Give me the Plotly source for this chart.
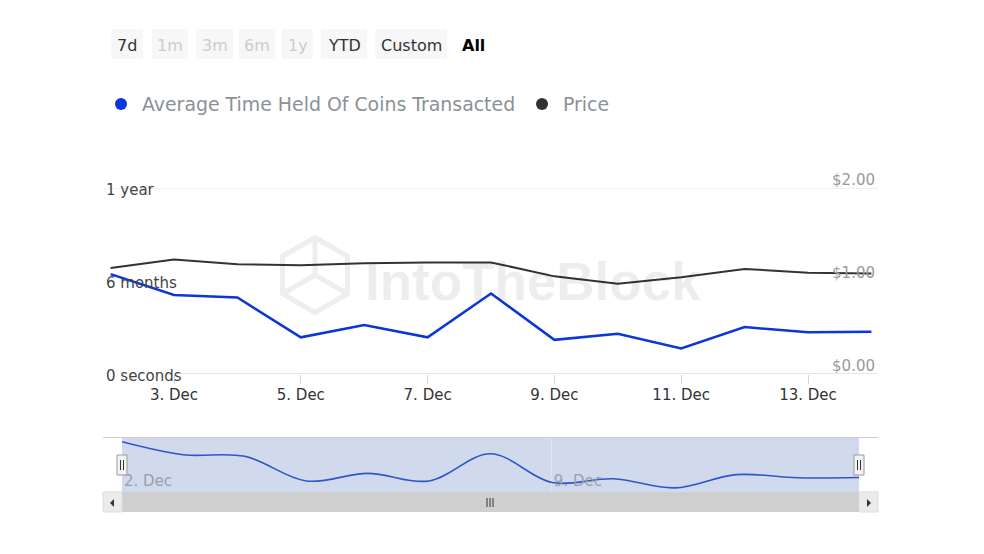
import plotly.graph_objects as go

# ---------------- data ----------------
dates = ["2023-12-02", "2023-12-03", "2023-12-04", "2023-12-05", "2023-12-06",
         "2023-12-07", "2023-12-08", "2023-12-09", "2023-12-10", "2023-12-11",
         "2023-12-12", "2023-12-13", "2023-12-14"]
hold_days = [196, 155, 150, 72, 96, 72, 158, 67, 79, 50, 92, 82, 83]
price = [1.14, 1.23, 1.18, 1.17, 1.19, 1.20, 1.20, 1.05, 0.97, 1.04, 1.13, 1.09, 1.08]

x_ticks = ["2023-12-03", "2023-12-05", "2023-12-07", "2023-12-09", "2023-12-11", "2023-12-13"]
nav_ticks = ["2023-12-02", "2023-12-09"]
left_tickvals = [0, 182.5, 365]
left_ticktext = ["0 seconds", "6 months", "1 year"]
right_tickvals = [0, 1, 2]
right_ticktext = ["$0.00", "$1.00", "$2.00"]
series_names = ["Average Time Held Of Coins Transacted", "Price"]
buttons = ["7d", "1m", "3m", "6m", "1y", "YTD", "Custom"]
button_enabled = [True, False, False, False, False, True, True]
selected_button = "All"

# ---------------- geometry helpers ----------------
W, H = 984, 554
FONT = "DejaVu Sans"
BLUE = "#0b36d8"
DARK = "#333333"


def px(x):
    return x / W


def py(y):
    return 1 - y / H


# main plot: left axis days, right axis dollars share gridlines (365 d <-> $2)
Y_TOP_DAYS = 372
main_bottom_px = 374
main_top_px = main_bottom_px - Y_TOP_DAYS * 186 / 365

fig = go.Figure()

fig.add_trace(go.Scatter(x=dates, y=price, mode="lines", name=series_names[1],
                         line=dict(color=DARK, width=2), xaxis="x", yaxis="y2",
                         showlegend=False))
fig.add_trace(go.Scatter(x=dates, y=hold_days, mode="lines", name=series_names[0],
                         line=dict(color=BLUE, width=2.5), xaxis="x", yaxis="y",
                         showlegend=False))
# navigator series
fig.add_trace(go.Scatter(x=dates, y=hold_days, mode="lines",
                         line=dict(color="#2f55c8", width=1.6, shape="spline", smoothing=1.0),
                         xaxis="x2", yaxis="y3", showlegend=False, hoverinfo="skip"))

shapes = []
annotations = []

# range selector buttons
btn_boxes = [(111, 143), (152, 188), (196, 233), (239, 275), (282, 313), (321, 367), (375, 447)]
for label, (x0, x1), en in zip(buttons, btn_boxes, button_enabled):
    shapes.append(dict(type="rect", xref="paper", yref="paper",
                       x0=px(x0), x1=px(x1), y0=py(59), y1=py(29),
                       fillcolor="#f7f7f7", line=dict(width=0), layer="below"))
    annotations.append(dict(text=label, xref="paper", yref="paper",
                            x=px((x0 + x1) / 2), y=py(45), xanchor="center", yanchor="middle",
                            showarrow=False,
                            font=dict(family=FONT, size=16, color=DARK if en else "#cccccc")))
annotations.append(dict(text="<b>%s</b>" % selected_button, xref="paper", yref="paper",
                        x=px(473), y=py(45), xanchor="center", yanchor="middle", showarrow=False,
                        font=dict(family=FONT, size=16, color="#000000")))

# legend
shapes.append(dict(type="circle", xref="paper", yref="paper", x0=px(115), x1=px(127),
                   y0=py(110), y1=py(98), fillcolor=BLUE, line=dict(width=0)))
annotations.append(dict(text=series_names[0], xref="paper", yref="paper", x=px(140), y=py(104),
                        xanchor="left", yanchor="middle", showarrow=False,
                        font=dict(family=FONT, size=18.9, color="#8a9296")))
shapes.append(dict(type="circle", xref="paper", yref="paper", x0=px(536), x1=px(548),
                   y0=py(110), y1=py(98), fillcolor=DARK, line=dict(width=0)))
annotations.append(dict(text=series_names[1], xref="paper", yref="paper", x=px(561), y=py(104),
                        xanchor="left", yanchor="middle", showarrow=False,
                        font=dict(family=FONT, size=18.9, color="#8a9296")))

# watermark hexagon logo
cx, cy, r = 315, 275, 37.5
verts = [(cx, cy - r), (cx + 0.866 * r, cy - r / 2), (cx + 0.866 * r, cy + r / 2),
         (cx, cy + r), (cx - 0.866 * r, cy + r / 2), (cx - 0.866 * r, cy - r / 2)]
path = "M " + " L ".join("%f %f" % (px(vx), py(vy)) for vx, vy in verts) + " Z"
shapes.append(dict(type="path", xref="paper", yref="paper", path=path,
                   line=dict(color="#eeeeee", width=5), layer="below"))
for vx, vy in [verts[0], verts[2], verts[4]]:
    shapes.append(dict(type="line", xref="paper", yref="paper", x0=px(cx), y0=py(cy),
                       x1=px(vx), y1=py(vy), line=dict(color="#eeeeee", width=5), layer="below"))
annotations.append(dict(text="<b>IntoTheBlock</b>", xref="paper", yref="paper",
                        x=px(533), y=py(281), xanchor="center", yanchor="middle", showarrow=False,
                        font=dict(family="Liberation Sans", size=53, color="rgba(0,0,0,0.07)")))

# main baseline
shapes.append(dict(type="line", xref="paper", yref="y", x0=px(178), x1=px(878), y0=0, y1=0,
                   line=dict(color="#cccccc", width=1)))

# navigator
shapes.append(dict(type="line", xref="paper", yref="paper", x0=px(103), x1=px(878),
                   y0=py(437.5), y1=py(437.5), line=dict(color="#cccccc", width=1)))
shapes.append(dict(type="rect", xref="paper", yref="paper", x0=px(122), x1=px(859),
                   y0=py(492), y1=py(438), fillcolor="rgba(102,133,194,0.3)",
                   line=dict(width=0), layer="below"))

# scrollbar
shapes.append(dict(type="rect", xref="paper", yref="paper", x0=px(103), x1=px(878),
                   y0=py(512), y1=py(492), fillcolor="#f2f2f2", line=dict(width=0)))
shapes.append(dict(type="rect", xref="paper", yref="paper", x0=px(122), x1=px(859),
                   y0=py(512), y1=py(492), fillcolor="#cfcfcf", line=dict(width=0)))
for bx0, bx1 in [(103, 122), (859, 878)]:
    shapes.append(dict(type="rect", xref="paper", yref="paper", x0=px(bx0), x1=px(bx1),
                       y0=py(512), y1=py(492), fillcolor="#ebebeb",
                       line=dict(color="#dddddd", width=1)))
shapes.append(dict(type="path", xref="paper", yref="paper",
                   path="M %f %f L %f %f L %f %f Z" % (px(114), py(499), px(114), py(507), px(110), py(503)),
                   fillcolor="#333333", line=dict(width=0)))
shapes.append(dict(type="path", xref="paper", yref="paper",
                   path="M %f %f L %f %f L %f %f Z" % (px(867), py(499), px(867), py(507), px(871), py(503)),
                   fillcolor="#333333", line=dict(width=0)))
for gx in [487, 490, 493]:
    shapes.append(dict(type="line", xref="paper", yref="paper", x0=px(gx), x1=px(gx),
                       y0=py(498), y1=py(507), line=dict(color="#333333", width=1)))

# navigator handles
for hx0, hx1 in [(117, 127), (854, 864)]:
    shapes.append(dict(type="rect", xref="paper", yref="paper", x0=px(hx0), x1=px(hx1),
                       y0=py(475), y1=py(455), fillcolor="#f2f2f2",
                       line=dict(color="#999999", width=1)))
    for lx in [hx0 + 3.5, hx0 + 6.5]:
        shapes.append(dict(type="line", xref="paper", yref="paper", x0=px(lx), x1=px(lx),
                           y0=py(460), y1=py(470), line=dict(color="#333333", width=1)))

fig.update_layout(
    width=W, height=H, autosize=False,
    margin=dict(l=0, r=0, t=0, b=0, pad=0, autoexpand=False),
    paper_bgcolor="white", plot_bgcolor="rgba(0,0,0,0)",
    showlegend=False,
    font=dict(family=FONT, color=DARK),
    shapes=shapes, annotations=annotations,
    xaxis=dict(domain=[px(103), px(878)], anchor="y", automargin=False,
               range=["2023-12-01 21:07", "2023-12-14 02:30"],
               tickvals=x_ticks, tickformat="%-d. %b",
               ticks="outside", ticklen=9, tickcolor="#ccd6eb", ticklabelstandoff=-2,
               showgrid=False, showline=False, zeroline=False,
               tickfont=dict(family=FONT, size=15, color=DARK)),
    yaxis=dict(domain=[py(main_bottom_px), py(main_top_px)], anchor="x", automargin=False,
               range=[0, Y_TOP_DAYS], tickvals=left_tickvals, ticktext=left_ticktext,
               ticklabelposition="inside", ticklabeloverflow="allow", ticklabelshift=2,
               showgrid=False, zeroline=False, showline=False, ticks="",
               minor=dict(tickmode="array", tickvals=[365], showgrid=True,
                          gridcolor="#f2f2f2", gridwidth=1, ticks=""),
               tickfont=dict(family=FONT, size=15, color="#444444")),
    yaxis2=dict(overlaying="y", side="right", anchor="x", automargin=False,
                range=[0, Y_TOP_DAYS * 2 / 365], tickvals=right_tickvals, ticktext=right_ticktext,
                ticklabelposition="inside", ticklabeloverflow="allow", ticklabelshift=-8,
                showgrid=False, zeroline=False, showline=False, ticks="",
                tickfont=dict(family=FONT, size=15, color="#999999")),
    xaxis2=dict(domain=[px(122), px(859)], anchor="y3", automargin=False,
                range=[dates[0], dates[-1]],
                tickvals=nav_ticks, tickformat="%-d. %b",
                ticklabelposition="inside", ticklabelshift=26, ticklabeloverflow="allow",
                ticks="", showgrid=True, gridcolor="#e0e3ea", zeroline=False, showline=False,
                tickfont=dict(family=FONT, size=15, color="#9aa0aa")),
    yaxis3=dict(domain=[py(492), py(438)], anchor="x2", range=[37, 208], automargin=False,
                visible=False, showgrid=False, zeroline=False),
)

fig.write_html("out.html", config={"displayModeBar": False},
               post_script="document.body.style.margin='0';document.body.style.padding='0';"
                           "document.documentElement.style.overflow='hidden';")
